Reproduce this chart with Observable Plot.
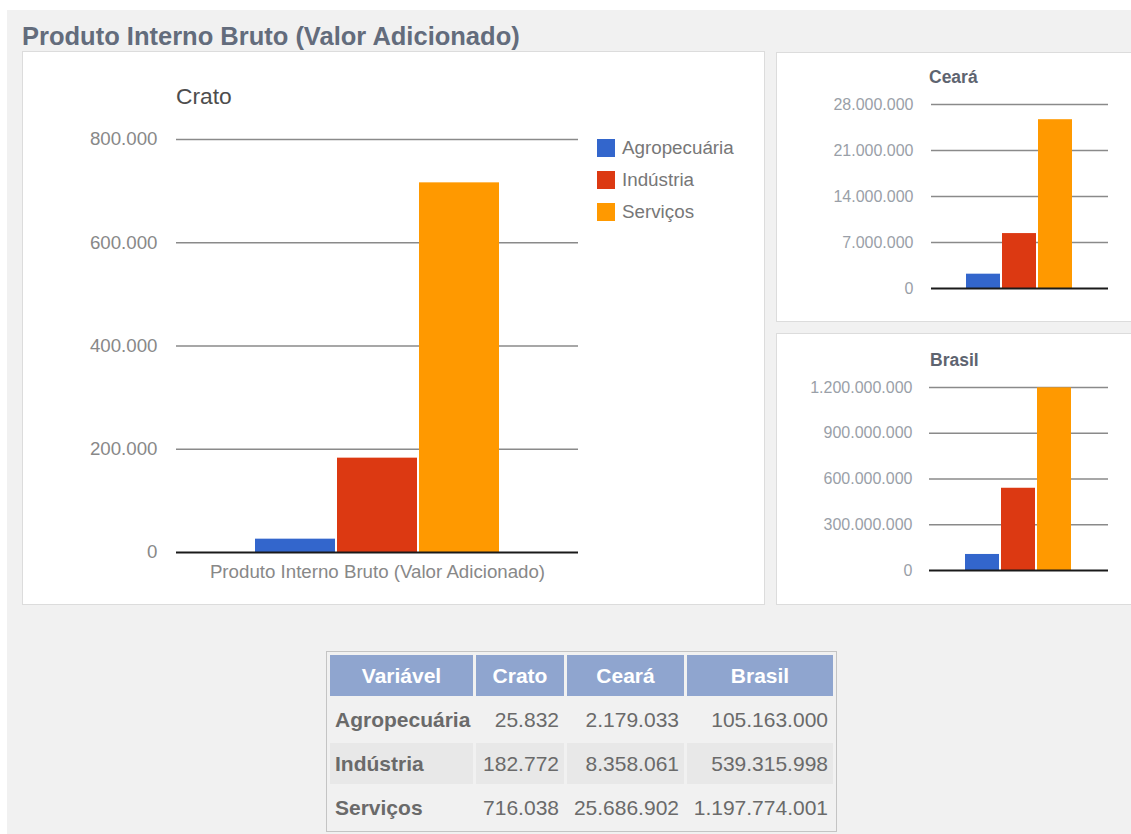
<!DOCTYPE html>
<html><head><meta charset="utf-8">
<script src="https://cdn.jsdelivr.net/npm/d3@7"></script>
<script src="https://cdn.jsdelivr.net/npm/@observablehq/plot@0.6"></script>
<style>
body{margin:0;background:#fff;font-family:"Liberation Sans",Arial,sans-serif;width:1131px;height:834px;overflow:hidden;position:relative}
.abs{position:absolute}
#page{left:7px;top:10px;width:1124px;height:824px;background:#f1f1f1}
.panel{background:#fff;border:1px solid #dcdcdc;box-sizing:border-box;overflow:hidden}
.panel svg{position:absolute;left:0;top:0}
.txt{position:absolute;line-height:1;white-space:nowrap}
table{position:absolute;left:326px;top:651px;width:511px;border:1px solid #c4c4c4;border-spacing:3px;background:#f1f1f1;table-layout:fixed;font-size:21px;color:#6a6a6a}
td,th{box-sizing:border-box;height:41px;padding:0 5px;white-space:nowrap;overflow:visible}
th{background:#8fa5cf;color:#fff;font-weight:bold;text-align:center}
td{text-align:right}
td.first{text-align:left;font-weight:bold;padding-left:5px}
tr.alt td{background:#e8e8e8}
</style></head>
<body>
<div id="page" class="abs"></div>
<script>
const categories = ["Agropecuária", "Indústria", "Serviços"];
const colors = ["#3366cc", "#dc3912", "#ff9900"];
const regions = ["Crato", "Ceará", "Brasil"];
const crato = [25832, 182772, 716038];
const ceara = [2179033, 8358061, 25686902];
const brasil = [105163000, 539315998, 1197774001];
const cratoTicks = [0, 200000, 400000, 600000, 800000];
const cearaTicks = [0, 7000000, 14000000, 21000000, 28000000];
const brasilTicks = [0, 300000000, 600000000, 900000000, 1200000000];
const pageTitle = "Produto Interno Bruto (Valor Adicionado)";
const xLabel = "Produto Interno Bruto (Valor Adicionado)";
const tableHeader = ["Variável", "Crato", "Ceará", "Brasil"];

const FONT = '"Liberation Sans",Arial,sans-serif';
const fmt = d3.formatLocale({decimal: ",", thousands: ".", grouping: [3], currency: ["R$", ""]}).format(",d");

function addText(str, x, baseline, size, opts = {}) {
  const d = document.createElement("div");
  d.className = "txt";
  d.textContent = str;
  d.style.left = x + "px";
  d.style.top = (baseline - 0.8465 * size) + "px";
  d.style.fontSize = size + "px";
  d.style.color = opts.color || "#555";
  if (opts.bold) d.style.fontWeight = "bold";
  document.body.appendChild(d);
  return d;
}
function addPanel(x, y, w, h) {
  const d = document.createElement("div");
  d.className = "abs panel";
  Object.assign(d.style, {left: x + "px", top: y + "px", width: w + "px", height: h + "px"});
  document.body.appendChild(d);
  return d;
}
function chart(values, ticks, o) {
  const data = categories.map((c, i) => ({cat: c, value: values[i]}));
  return Plot.plot({
    width: o.width, height: o.height,
    marginLeft: o.ml, marginRight: o.mr, marginTop: o.mt, marginBottom: o.mb,
    style: {fontFamily: FONT, background: "transparent", overflow: "visible", color: o.tc},
    x: {domain: categories, paddingInner: o.pi, paddingOuter: o.po, axis: null},
    y: {domain: [0, ticks[ticks.length - 1]]},
    color: {domain: categories, range: colors},
    marks: [
      Plot.ruleY(ticks.slice(1), {stroke: "#8a8a8a", strokeWidth: 1.6}),
      Plot.axisY(ticks, {tickSize: 0, tickPadding: o.tp, tickFormat: fmt, fontSize: o.fs, fill: o.tc, label: null}),
      Plot.barY(data, {x: "cat", y: "value", fill: "cat"}),
      Plot.ruleY([0], {stroke: "#1a1a1a", strokeWidth: 2}),
      ...(o.extra || [])
    ]
  });
}

// Page title
addText(pageTitle, 22, 46, 25.5, {bold: true, color: "#636c7c"});

// Main Crato panel
const p1 = addPanel(22, 51, 743, 554);
p1.appendChild(chart(crato, cratoTicks, {
  width: 741, height: 552, ml: 153, mr: 186, mt: 87, mb: 52,
  pi: 0.025, po: 0.963, tp: 19, fs: 18.7, tc: "#888",
  extra: [Plot.text([xLabel], {frameAnchor: "bottom", dy: 25, fontSize: 18.7, fill: "#888"})]
}));
addText(regions[0], 176, 104, 22.8, {color: "#4d4d4d"});

// Legend
categories.forEach((c, i) => {
  const s = document.createElement("div");
  s.className = "abs";
  Object.assign(s.style, {left: "597px", top: (139 + i * 32) + "px", width: "18px", height: "18px", background: colors[i]});
  document.body.appendChild(s);
  addText(c, 622, 154.5 + i * 32, 18.8, {color: "#777"});
});

// Ceará panel
const p2 = addPanel(776, 52, 360, 270);
p2.appendChild(chart(ceara, cearaTicks, {
  width: 354, height: 268, ml: 154, mr: 23, mt: 51, mb: 33,
  pi: 0.05, po: 0.983, tp: 18, fs: 16, tc: "#9a9fa8"
}));
addText(regions[1], 929, 84, 17.5, {bold: true, color: "#5e6470"});

// Brasil panel
const p3 = addPanel(776, 333, 360, 272);
p3.appendChild(chart(brasil, brasilTicks, {
  width: 354, height: 270, ml: 152, mr: 23, mt: 53, mb: 34,
  pi: 0.05, po: 0.975, tp: 17, fs: 16, tc: "#9a9fa8"
}));
addText(regions[2], 930, 367, 17.5, {bold: true, color: "#5e6470"});

// Table
const widths = [143, 88, 117, 146];
const series = [crato, ceara, brasil];
const table = document.createElement("table");
const cg = document.createElement("colgroup");
widths.forEach(w => {
  const col = document.createElement("col");
  col.style.width = w + "px";
  cg.appendChild(col);
});
table.appendChild(cg);
const hr = document.createElement("tr");
tableHeader.forEach(h => {
  const th = document.createElement("th");
  th.textContent = h;
  hr.appendChild(th);
});
table.appendChild(hr);
categories.forEach((c, i) => {
  const tr = document.createElement("tr");
  if (i === 1) tr.className = "alt";
  const td0 = document.createElement("td");
  td0.className = "first";
  td0.textContent = c;
  tr.appendChild(td0);
  series.forEach(s => {
    const td = document.createElement("td");
    td.textContent = fmt(s[i]);
    tr.appendChild(td);
  });
  table.appendChild(tr);
});
document.body.appendChild(table);
</script>
</body></html>
